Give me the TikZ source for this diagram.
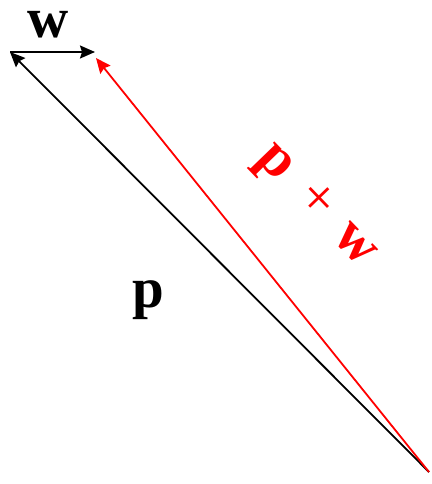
\documentclass[tikz,border=0pt]{standalone}
\usepackage{fontspec}
\setmainfont{Liberation Serif}
\usetikzlibrary{arrows.meta}
\begin{document}
\begin{tikzpicture}[x=1pt,y=-1pt,
  vec/.style={line width=1.8pt,-{Stealth[length=15pt,width=13pt,inset=2pt]}},
  lbl/.style={inner sep=0pt,anchor=base,font=\fontsize{57}{60}\selectfont\bfseries}]
\useasboundingbox (0,0) rectangle (431,484);
\coordinate (O) at (429,472);
\coordinate (P) at (10,52);
\coordinate (W) at (95,52);
\coordinate (R) at (96,58);
\draw[vec] (O) -- (P);
\draw[vec] (P) -- (W);
\draw[vec,red] (O) -- (R);
\node[lbl] (wlab) at (48,38) {w};
\node[lbl] (plab) at (148,307) {p};
\node[lbl,red,rotate=-46] (pwlab) at (308,213.5)
  {p\hspace{24pt}{\mdseries+}\hspace{22pt}w};
\end{tikzpicture}
\end{document}
